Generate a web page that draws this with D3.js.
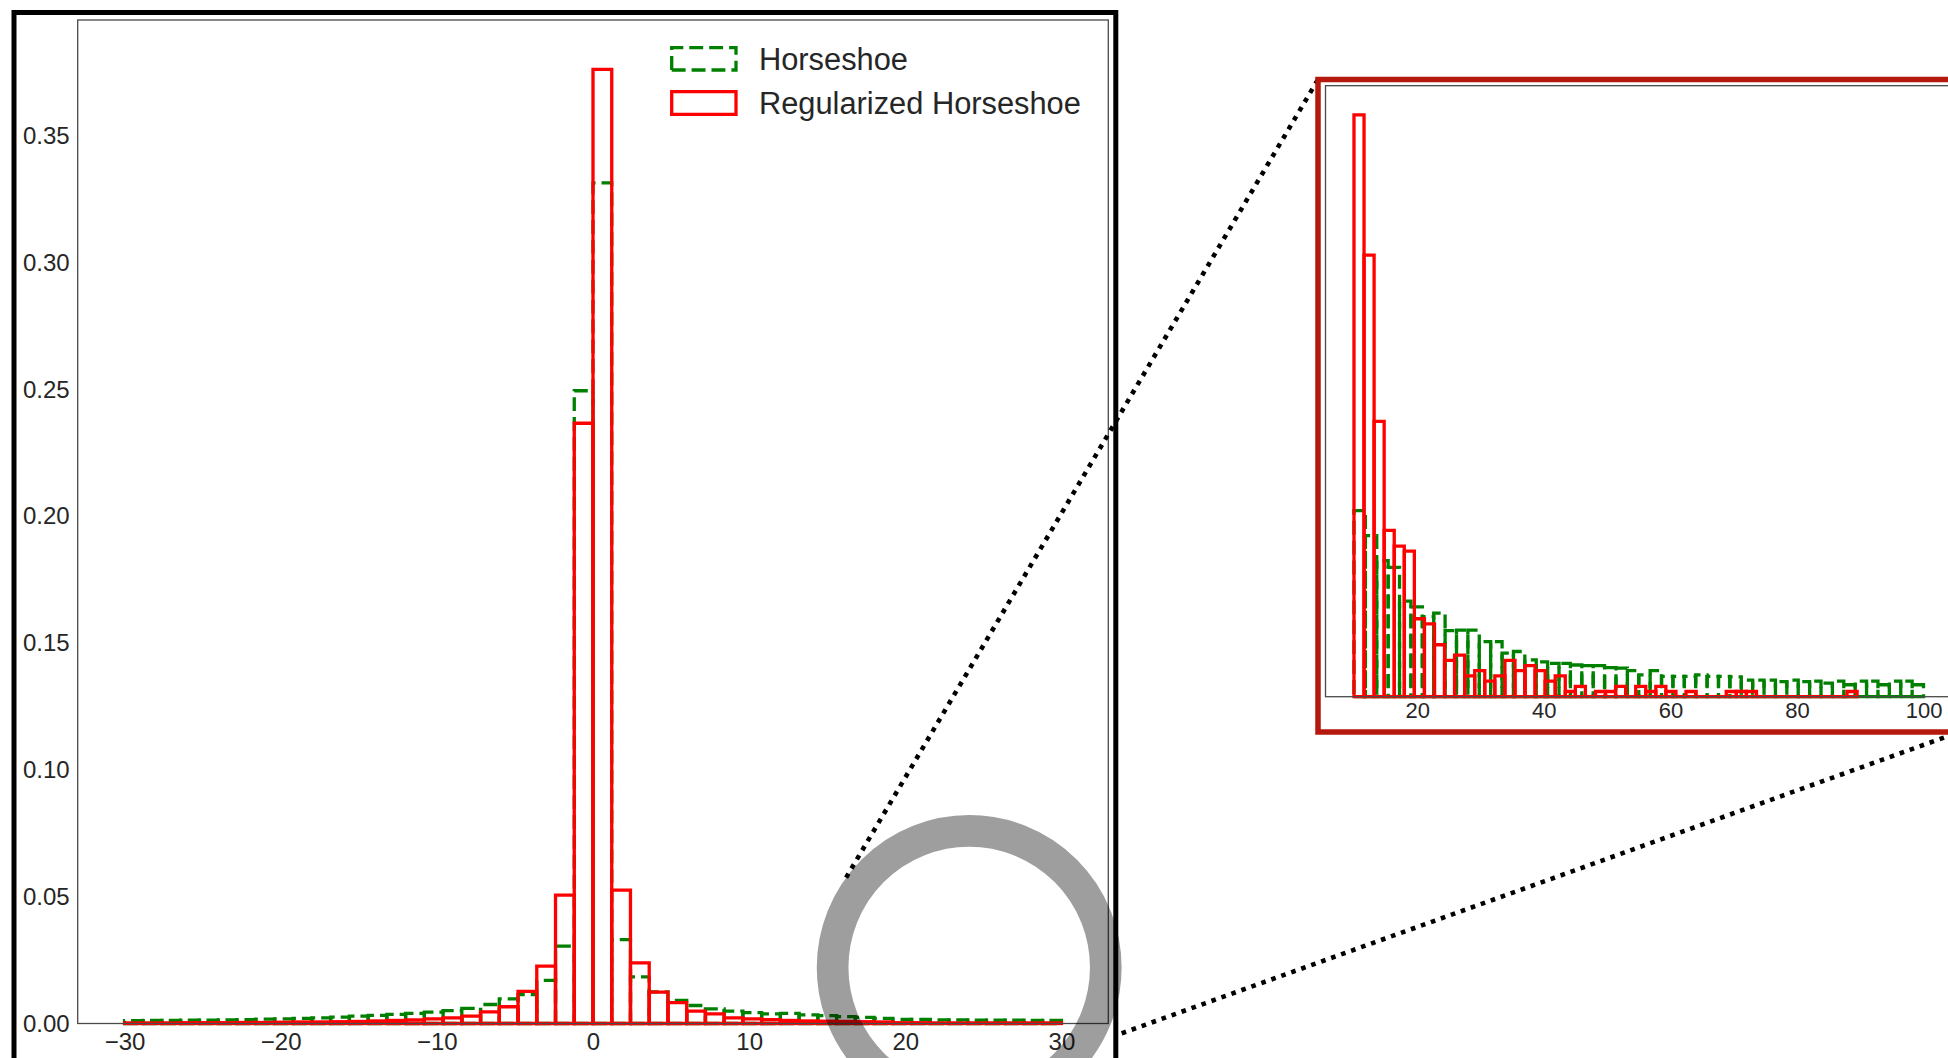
<!DOCTYPE html>
<html>
<head>
<meta charset="utf-8">
<script src="https://cdn.jsdelivr.net/npm/d3@7"></script>
<style>
html, body { margin: 0; padding: 0; background: #fff; overflow: hidden; }
svg { display: block; }
</style>
</head>
<body>
<svg id="chart" width="1948" height="1058"></svg>
<script>
// ---------------- DATA ----------------
const seriesNames = ["Horseshoe", "Regularized Horseshoe"];

// main histogram: 50 bins over [-30, 30]
const mainBinLo = -30, mainBinHi = 30, mainBinCount = 50;
const mainHorseshoe = [
  0.0011, 0.0012, 0.0012, 0.0013, 0.0013, 0.0014, 0.0015, 0.0017, 0.0018, 0.0020,
  0.0022, 0.0025, 0.0029, 0.0032, 0.0036, 0.0040, 0.0045, 0.0051, 0.0060, 0.0075,
  0.0097, 0.0114, 0.0170, 0.0305, 0.2495, 0.3315, 0.0331, 0.0184, 0.0125, 0.0091,
  0.0071, 0.0058, 0.0049, 0.0043, 0.0038, 0.0040, 0.0034, 0.0031, 0.0027, 0.0024,
  0.0020, 0.0016, 0.0016, 0.0014, 0.0014, 0.0013, 0.0013, 0.0013, 0.0012, 0.0012
];
const mainRegularized = [
  0.0002, 0.0002, 0.0002, 0.0003, 0.0003, 0.0003, 0.0004, 0.0004, 0.0005, 0.0006,
  0.0006, 0.0007, 0.0008, 0.0010, 0.0012, 0.0014, 0.0018, 0.0022, 0.0029, 0.0046,
  0.0066, 0.0127, 0.0226, 0.0506, 0.2367, 0.3762, 0.0526, 0.0239, 0.0124, 0.0082,
  0.0049, 0.0038, 0.0022, 0.0018, 0.0015, 0.0012, 0.0010, 0.0009, 0.0008, 0.0007,
  0.0006, 0.0003, 0.0003, 0.0002, 0.0002, 0.0002, 0.0002, 0.0002, 0.0002, 0.0002
];
const mainXTicks = [-30, -20, -10, 0, 10, 20, 30];
const mainYTicks = [0, 0.05, 0.10, 0.15, 0.20, 0.25, 0.30, 0.35];

// inset histogram (tail, x > 10): 50 bins each
const insetHorseLo = 10, insetHorseHi = 100, insetHorseCount = 50;
const insetRegLo = 10, insetRegHi = 89.5, insetRegCount = 50;
const insetHorseshoe = [
  35.8, 31.0, 26.2, 24.9, 18.4, 17.3, 15.4, 16.1, 12.7, 12.8,
  12.8, 10.6, 10.6, 8.4, 8.7, 7.1, 6.7, 6.4, 6.4, 6.1,
  6.0, 6.0, 5.6, 5.5, 5.0, 4.2, 5.0, 3.9, 3.9, 3.9,
  4.2, 3.9, 3.9, 3.8, 3.2, 3.2, 3.2, 2.9, 3.2, 2.9,
  3.0, 2.6, 3.0, 2.3, 3.0, 3.0, 2.3, 3.0, 3.0, 2.3
];
const insetRegularized = [
  112, 85, 53, 32, 29, 28, 15, 14, 10, 7,
  8, 4, 5, 3, 4, 7, 5, 6, 5, 3,
  4, 1, 2, 0, 1, 1, 2, 0, 2, 1,
  2, 1, 0, 1, 0, 0, 0, 1, 1, 1,
  0, 0, 0, 0, 0, 0, 0, 0, 0, 1
];
const insetXTicks = [20, 40, 60, 80, 100];

// ---------------- STYLE / LAYOUT ----------------
const GREEN = "#008000", RED = "#ff0000", TEXT = "#262626", SPINE = "#4a4a4a";
const FONT = "'Liberation Sans', Arial, Helvetica, sans-serif";
const DASH = "13.9,6";
const LW = 3.3;

const svg = d3.select("#chart");

function binEdges(lo, hi, n) {
  return d3.range(n + 1).map(i => lo + (hi - lo) * i / n);
}
function barPath(x, y, x0, x1, v) {
  const yb = y(0), yt = y(v);
  return `M${x(x0)},${yb}H${x(x1)}V${yt}H${x(x0)}Z`;
}

// ---------------- MAIN PANEL ----------------
const main = { left: 77.7, right: 1108.3, top: 20, bottom: 1023.5 };
const x = d3.scaleLinear().domain([-33, 33]).range([main.left, main.right]);
const y = d3.scaleLinear().domain([0, 0.3957]).range([main.bottom, main.top]);

// black outer frame of the main panel
svg.append("rect").attr("x", 14).attr("y", 12.5).attr("width", 1101.8).attr("height", 1100)
  .attr("fill", "none").attr("stroke", "#000").attr("stroke-width", 5);

const mEdges = binEdges(mainBinLo, mainBinHi, mainBinCount);
const gMain = svg.append("g");

gMain.append("g").selectAll("path").data(mainHorseshoe).join("path")
  .attr("d", (v, i) => barPath(x, y, mEdges[i], mEdges[i + 1], v))
  .attr("fill", "none").attr("stroke", GREEN).attr("stroke-width", LW)
  .attr("stroke-dasharray", DASH);

gMain.append("g").selectAll("path").data(mainRegularized).join("path")
  .attr("d", (v, i) => barPath(x, y, mEdges[i], mEdges[i + 1], v))
  .attr("fill", "none").attr("stroke", RED).attr("stroke-width", LW);

// spines
gMain.append("rect").attr("x", main.left).attr("y", main.top)
  .attr("width", main.right - main.left).attr("height", main.bottom - main.top)
  .attr("fill", "none").attr("stroke", SPINE).attr("stroke-width", 1.3);

// axes
const xAxis = gMain.append("g").attr("transform", `translate(0,${main.bottom})`)
  .call(d3.axisBottom(x).tickValues(mainXTicks).tickSize(0).tickPadding(9).tickFormat(d3.format("d")));
const yAxis = gMain.append("g").attr("transform", `translate(${main.left},0)`)
  .call(d3.axisLeft(y).tickValues(mainYTicks).tickSize(0).tickPadding(8).tickFormat(d3.format(".2f")));
[xAxis, yAxis].forEach(a => {
  a.select(".domain").remove();
  a.selectAll("text").attr("font-family", FONT).attr("font-size", 24).attr("fill", TEXT);
});

// legend
const leg = gMain.append("g");
const legItems = [
  { name: seriesNames[0], color: GREEN, dash: DASH, y0: 47.7, y1: 70 },
  { name: seriesNames[1], color: RED, dash: null, y0: 91.7, y1: 114.3 }
];
legItems.forEach(it => {
  leg.append("path")
    .attr("d", `M671.7,${it.y1}H736V${it.y0}H671.7Z`)
    .attr("fill", "none").attr("stroke", it.color).attr("stroke-width", LW)
    .attr("stroke-dasharray", it.dash);
  leg.append("text").attr("x", 759).attr("y", it.y1)
    .attr("font-family", FONT).attr("font-size", 30.8).attr("fill", TEXT)
    .text(it.name);
});

// magnifier circle (translucent)
const circ = { cx: 969.2, cy: 967.5, r: 136.6, w: 31.7 };
svg.append("circle").attr("cx", circ.cx).attr("cy", circ.cy).attr("r", circ.r)
  .attr("fill", "none").attr("stroke", "rgba(0,0,0,0.38)").attr("stroke-width", circ.w);

// ---------------- INSET ----------------
const inset = { left: 1325.5, right: 1952, top: 85.7, bottom: 696.7 };
const frame = { left: 1318, right: 1959.5, top: 79.5, bottom: 732 };

// connector dotted lines
const outerR = circ.r + circ.w / 2;
const ang = Math.atan2(877.3 - circ.cy, 845.7 - circ.cx);
const upperStart = [circ.cx + outerR * Math.cos(ang), circ.cy + outerR * Math.sin(ang)];
svg.append("line")
  .attr("x1", upperStart[0]).attr("y1", upperStart[1])
  .attr("x2", frame.left).attr("y2", frame.top)
  .attr("stroke", "#000").attr("stroke-width", 4.6).attr("stroke-dasharray", "4.6,6");
svg.append("line")
  .attr("x1", 1121.7).attr("y1", 1033.3)
  .attr("x2", frame.right).attr("y2", frame.bottom)
  .attr("stroke", "#000").attr("stroke-width", 4.6).attr("stroke-dasharray", "4.6,6");

// inset frame
svg.append("rect").attr("x", frame.left).attr("y", frame.top)
  .attr("width", frame.right - frame.left).attr("height", frame.bottom - frame.top)
  .attr("fill", "#fff").attr("stroke", "#b5180c").attr("stroke-width", 5.5);

const xi = d3.scaleLinear().domain([5.5, 104.5]).range([inset.left, inset.right]);
const yi = d3.scaleLinear().domain([0, 117.6]).range([inset.bottom, inset.top]);
const gIn = svg.append("g");

const hEdges = binEdges(insetHorseLo, insetHorseHi, insetHorseCount);
const rEdges = binEdges(insetRegLo, insetRegHi, insetRegCount);

gIn.append("g").selectAll("path").data(insetHorseshoe).join("path")
  .attr("d", (v, i) => barPath(xi, yi, hEdges[i], hEdges[i + 1], v))
  .attr("fill", "none").attr("stroke", GREEN).attr("stroke-width", LW)
  .attr("stroke-dasharray", DASH);
gIn.append("g").selectAll("path").data(insetRegularized).join("path")
  .attr("d", (v, i) => barPath(xi, yi, rEdges[i], rEdges[i + 1], v))
  .attr("fill", "none").attr("stroke", RED).attr("stroke-width", LW);

gIn.append("rect").attr("x", inset.left).attr("y", inset.top)
  .attr("width", inset.right - inset.left).attr("height", inset.bottom - inset.top)
  .attr("fill", "none").attr("stroke", SPINE).attr("stroke-width", 1.3);

const xiAxis = gIn.append("g").attr("transform", `translate(0,${inset.bottom})`)
  .call(d3.axisBottom(xi).tickValues(insetXTicks).tickSize(0).tickPadding(6).tickFormat(d3.format("d")));
xiAxis.select(".domain").remove();
xiAxis.selectAll("text").attr("font-family", FONT).attr("font-size", 22).attr("fill", TEXT);
</script>
</body>
</html>
